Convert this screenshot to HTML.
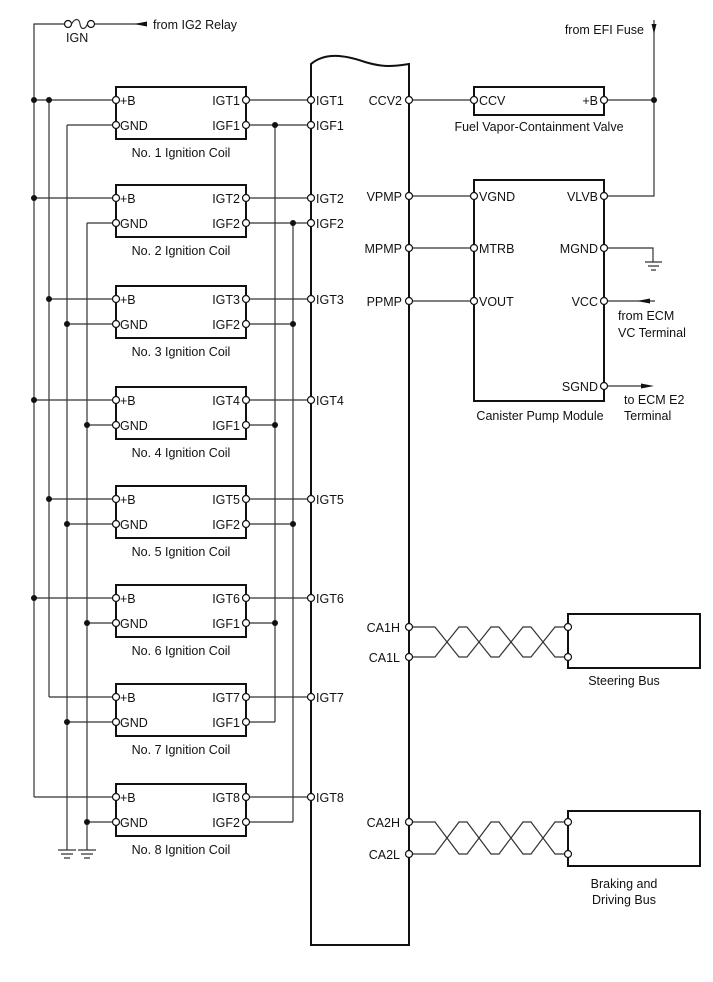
<!DOCTYPE html>
<html><head><meta charset="utf-8"><style>
html,body{margin:0;padding:0;background:#fff}
svg{display:block}
text{font-family:"Liberation Sans",Arial,sans-serif;font-size:12.5px;fill:#111}
.w{stroke:#333;stroke-width:1.2;fill:none}
.b{stroke:#111;stroke-width:2;fill:none}
.p{fill:#fff;stroke:#111;stroke-width:1.2}
.d{fill:#111}
</style></head><body>
<svg width="713" height="982" viewBox="0 0 713 982" xmlns="http://www.w3.org/2000/svg">
<!-- fuse -->
<path class="w" d="M34,797 V24 H64 M95,24 H147"/>
<circle class="p" cx="68" cy="24" r="3.5"/><circle class="p" cx="91" cy="24" r="3.5"/>
<path class="w" d="M71.5,24 C75,18 79,18 80,24 C81,30 85,30 87.5,24"/>
<polygon class="d" points="134,24 147,21.5 147,26.5"/>
<text x="153" y="29">from IG2 Relay</text>
<text x="66" y="42">IGN</text>
<!-- buses -->
<path class="w" d="M49,100 V697 M67,125 V850 M87,223 V850 M275,125 V722 M293,223 V822"/>
<path class="w" d="M58,850 H76 M61,854 H73 M64,858 H70 M78,850 H96 M81,854 H93 M84,858 H90"/>
<!-- ECM -->
<path class="b" d="M311,945 V64 C325,52 345,55 365,62 C385,68 395,66 409,64 V945 Z"/>
<!-- coils -->
<g transform="translate(0,100)">
<path class="w" d="M34,0 H112.5 M67,25 H112.5 M249.5,0 H307.5 M249.5,25 H307.5"/>
<rect class="b" x="116" y="-13" width="130" height="52"/>
<circle class="p" cx="116" cy="0" r="3.5"/><circle class="p" cx="116" cy="25" r="3.5"/><circle class="p" cx="246" cy="0" r="3.5"/><circle class="p" cx="246" cy="25" r="3.5"/>
<text x="120" y="5">+B</text><text x="120" y="30">GND</text><text x="240" y="5" text-anchor="end">IGT1</text><text x="240" y="30" text-anchor="end">IGF1</text>
<text x="181" y="57" text-anchor="middle">No. 1 Ignition Coil</text>
<circle class="d" cx="34" cy="0" r="3"/><circle class="d" cx="49" cy="0" r="3"/><circle class="d" cx="275" cy="25" r="3"/>
<circle class="p" cx="311" cy="0" r="3.5"/><circle class="p" cx="311" cy="25" r="3.5"/>
<text x="316" y="5">IGT1</text><text x="316" y="30">IGF1</text>
</g>
<g transform="translate(0,198)">
<path class="w" d="M34,0 H112.5 M87,25 H112.5 M249.5,0 H307.5 M249.5,25 H307.5"/>
<rect class="b" x="116" y="-13" width="130" height="52"/>
<circle class="p" cx="116" cy="0" r="3.5"/><circle class="p" cx="116" cy="25" r="3.5"/><circle class="p" cx="246" cy="0" r="3.5"/><circle class="p" cx="246" cy="25" r="3.5"/>
<text x="120" y="5">+B</text><text x="120" y="30">GND</text><text x="240" y="5" text-anchor="end">IGT2</text><text x="240" y="30" text-anchor="end">IGF2</text>
<text x="181" y="57" text-anchor="middle">No. 2 Ignition Coil</text>
<circle class="d" cx="34" cy="0" r="3"/><circle class="d" cx="293" cy="25" r="3"/>
<circle class="p" cx="311" cy="0" r="3.5"/><circle class="p" cx="311" cy="25" r="3.5"/>
<text x="316" y="5">IGT2</text><text x="316" y="30">IGF2</text>
</g>
<g transform="translate(0,299)">
<path class="w" d="M49,0 H112.5 M67,25 H112.5 M249.5,0 H307.5 M249.5,25 H293"/>
<rect class="b" x="116" y="-13" width="130" height="52"/>
<circle class="p" cx="116" cy="0" r="3.5"/><circle class="p" cx="116" cy="25" r="3.5"/><circle class="p" cx="246" cy="0" r="3.5"/><circle class="p" cx="246" cy="25" r="3.5"/>
<text x="120" y="5">+B</text><text x="120" y="30">GND</text><text x="240" y="5" text-anchor="end">IGT3</text><text x="240" y="30" text-anchor="end">IGF2</text>
<text x="181" y="57" text-anchor="middle">No. 3 Ignition Coil</text>
<circle class="d" cx="49" cy="0" r="3"/><circle class="d" cx="67" cy="25" r="3"/><circle class="d" cx="293" cy="25" r="3"/>
<circle class="p" cx="311" cy="0" r="3.5"/><text x="316" y="5">IGT3</text>
</g>
<g transform="translate(0,400)">
<path class="w" d="M34,0 H112.5 M87,25 H112.5 M249.5,0 H307.5 M249.5,25 H275"/>
<rect class="b" x="116" y="-13" width="130" height="52"/>
<circle class="p" cx="116" cy="0" r="3.5"/><circle class="p" cx="116" cy="25" r="3.5"/><circle class="p" cx="246" cy="0" r="3.5"/><circle class="p" cx="246" cy="25" r="3.5"/>
<text x="120" y="5">+B</text><text x="120" y="30">GND</text><text x="240" y="5" text-anchor="end">IGT4</text><text x="240" y="30" text-anchor="end">IGF1</text>
<text x="181" y="57" text-anchor="middle">No. 4 Ignition Coil</text>
<circle class="d" cx="34" cy="0" r="3"/><circle class="d" cx="87" cy="25" r="3"/><circle class="d" cx="275" cy="25" r="3"/>
<circle class="p" cx="311" cy="0" r="3.5"/><text x="316" y="5">IGT4</text>
</g>
<g transform="translate(0,499)">
<path class="w" d="M49,0 H112.5 M67,25 H112.5 M249.5,0 H307.5 M249.5,25 H293"/>
<rect class="b" x="116" y="-13" width="130" height="52"/>
<circle class="p" cx="116" cy="0" r="3.5"/><circle class="p" cx="116" cy="25" r="3.5"/><circle class="p" cx="246" cy="0" r="3.5"/><circle class="p" cx="246" cy="25" r="3.5"/>
<text x="120" y="5">+B</text><text x="120" y="30">GND</text><text x="240" y="5" text-anchor="end">IGT5</text><text x="240" y="30" text-anchor="end">IGF2</text>
<text x="181" y="57" text-anchor="middle">No. 5 Ignition Coil</text>
<circle class="d" cx="49" cy="0" r="3"/><circle class="d" cx="67" cy="25" r="3"/><circle class="d" cx="293" cy="25" r="3"/>
<circle class="p" cx="311" cy="0" r="3.5"/><text x="316" y="5">IGT5</text>
</g>
<g transform="translate(0,598)">
<path class="w" d="M34,0 H112.5 M87,25 H112.5 M249.5,0 H307.5 M249.5,25 H275"/>
<rect class="b" x="116" y="-13" width="130" height="52"/>
<circle class="p" cx="116" cy="0" r="3.5"/><circle class="p" cx="116" cy="25" r="3.5"/><circle class="p" cx="246" cy="0" r="3.5"/><circle class="p" cx="246" cy="25" r="3.5"/>
<text x="120" y="5">+B</text><text x="120" y="30">GND</text><text x="240" y="5" text-anchor="end">IGT6</text><text x="240" y="30" text-anchor="end">IGF1</text>
<text x="181" y="57" text-anchor="middle">No. 6 Ignition Coil</text>
<circle class="d" cx="34" cy="0" r="3"/><circle class="d" cx="87" cy="25" r="3"/><circle class="d" cx="275" cy="25" r="3"/>
<circle class="p" cx="311" cy="0" r="3.5"/><text x="316" y="5">IGT6</text>
</g>
<g transform="translate(0,697)">
<path class="w" d="M49,0 H112.5 M67,25 H112.5 M249.5,0 H307.5 M249.5,25 H275"/>
<rect class="b" x="116" y="-13" width="130" height="52"/>
<circle class="p" cx="116" cy="0" r="3.5"/><circle class="p" cx="116" cy="25" r="3.5"/><circle class="p" cx="246" cy="0" r="3.5"/><circle class="p" cx="246" cy="25" r="3.5"/>
<text x="120" y="5">+B</text><text x="120" y="30">GND</text><text x="240" y="5" text-anchor="end">IGT7</text><text x="240" y="30" text-anchor="end">IGF1</text>
<text x="181" y="57" text-anchor="middle">No. 7 Ignition Coil</text>
<circle class="d" cx="67" cy="25" r="3"/>
<circle class="p" cx="311" cy="0" r="3.5"/><text x="316" y="5">IGT7</text>
</g>
<g transform="translate(0,797)">
<path class="w" d="M34,0 H112.5 M87,25 H112.5 M249.5,0 H307.5 M249.5,25 H293"/>
<rect class="b" x="116" y="-13" width="130" height="52"/>
<circle class="p" cx="116" cy="0" r="3.5"/><circle class="p" cx="116" cy="25" r="3.5"/><circle class="p" cx="246" cy="0" r="3.5"/><circle class="p" cx="246" cy="25" r="3.5"/>
<text x="120" y="5">+B</text><text x="120" y="30">GND</text><text x="240" y="5" text-anchor="end">IGT8</text><text x="240" y="30" text-anchor="end">IGF2</text>
<text x="181" y="57" text-anchor="middle">No. 8 Ignition Coil</text>
<circle class="d" cx="87" cy="25" r="3"/>
<circle class="p" cx="311" cy="0" r="3.5"/><text x="316" y="5">IGT8</text>
</g>
<!-- right side -->
<path class="w" d="M412.5,100 H470.5 M607.5,100 H654 M654,20 V196 H607.5 M412.5,196 H470.5 M412.5,248 H470.5 M412.5,301 H470.5 M607.5,248 H653 V262 M607.5,301 H655 M607.5,386 H644"/>
<path class="w" d="M645,262 H662 M648,266 H659 M651,270 H656"/>
<polygon class="d" points="654,34 651.5,24 656.5,24"/>
<polygon class="d" points="637,301 650,298.5 650,303.5"/>
<polygon class="d" points="654,386 641,383.5 641,388.5"/>
<circle class="d" cx="654" cy="100" r="3"/>
<text x="644" y="34" text-anchor="end">from EFI Fuse</text>
<rect class="b" x="474" y="87" width="130" height="28"/>
<rect class="b" x="474" y="180" width="130" height="221"/>
<circle class="p" cx="409" cy="100" r="3.5"/><circle class="p" cx="474" cy="100" r="3.5"/><circle class="p" cx="604" cy="100" r="3.5"/>
<circle class="p" cx="409" cy="196" r="3.5"/><circle class="p" cx="409" cy="248" r="3.5"/><circle class="p" cx="409" cy="301" r="3.5"/>
<circle class="p" cx="474" cy="196" r="3.5"/><circle class="p" cx="474" cy="248" r="3.5"/><circle class="p" cx="474" cy="301" r="3.5"/>
<circle class="p" cx="604" cy="196" r="3.5"/><circle class="p" cx="604" cy="248" r="3.5"/><circle class="p" cx="604" cy="301" r="3.5"/><circle class="p" cx="604" cy="386" r="3.5"/>
<text x="402" y="105" text-anchor="end">CCV2</text>
<text x="402" y="201" text-anchor="end">VPMP</text>
<text x="402" y="253" text-anchor="end">MPMP</text>
<text x="402" y="306" text-anchor="end">PPMP</text>
<text x="479" y="105">CCV</text><text x="598" y="105" text-anchor="end">+B</text>
<text x="539" y="131" text-anchor="middle">Fuel Vapor-Containment Valve</text>
<text x="479" y="201">VGND</text><text x="479" y="253">MTRB</text><text x="479" y="306">VOUT</text>
<text x="598" y="201" text-anchor="end">VLVB</text><text x="598" y="253" text-anchor="end">MGND</text><text x="598" y="306" text-anchor="end">VCC</text><text x="598" y="391" text-anchor="end">SGND</text>
<text x="540" y="420" text-anchor="middle">Canister Pump Module</text>
<text x="618" y="320">from ECM</text><text x="618" y="337">VC Terminal</text>
<text x="624" y="404">to ECM E2</text><text x="624" y="420">Terminal</text>
<!-- CAN buses -->
<g transform="translate(0,627)">
<path class="w" d="M412.5,0 H435 L459,30 H467 L491,0 H499 L523,30 H531 L555,0 H564.5"/>
<path class="w" d="M412.5,30 H435 L459,0 H467 L491,30 H499 L523,0 H531 L555,30 H564.5"/>
<rect class="b" x="568" y="-13" width="132" height="54"/>
<circle class="p" cx="409" cy="0" r="3.5"/><circle class="p" cx="409" cy="30" r="3.5"/>
<circle class="p" cx="568" cy="0" r="3.5"/><circle class="p" cx="568" cy="30" r="3.5"/>
<text x="400" y="5" text-anchor="end">CA1H</text><text x="400" y="35" text-anchor="end">CA1L</text>
<text x="624" y="58" text-anchor="middle">Steering Bus</text>
</g>
<g transform="translate(0,822)">
<path class="w" d="M412.5,0 H435 L459,32 H467 L491,0 H499 L523,32 H531 L555,0 H564.5"/>
<path class="w" d="M412.5,32 H435 L459,0 H467 L491,32 H499 L523,0 H531 L555,32 H564.5"/>
<rect class="b" x="568" y="-11" width="132" height="55"/>
<circle class="p" cx="409" cy="0" r="3.5"/><circle class="p" cx="409" cy="32" r="3.5"/>
<circle class="p" cx="568" cy="0" r="3.5"/><circle class="p" cx="568" cy="32" r="3.5"/>
<text x="400" y="5" text-anchor="end">CA2H</text><text x="400" y="37" text-anchor="end">CA2L</text>
<text x="624" y="66" text-anchor="middle">Braking and</text>
<text x="624" y="82" text-anchor="middle">Driving Bus</text>
</g>
</svg>
</body></html>
